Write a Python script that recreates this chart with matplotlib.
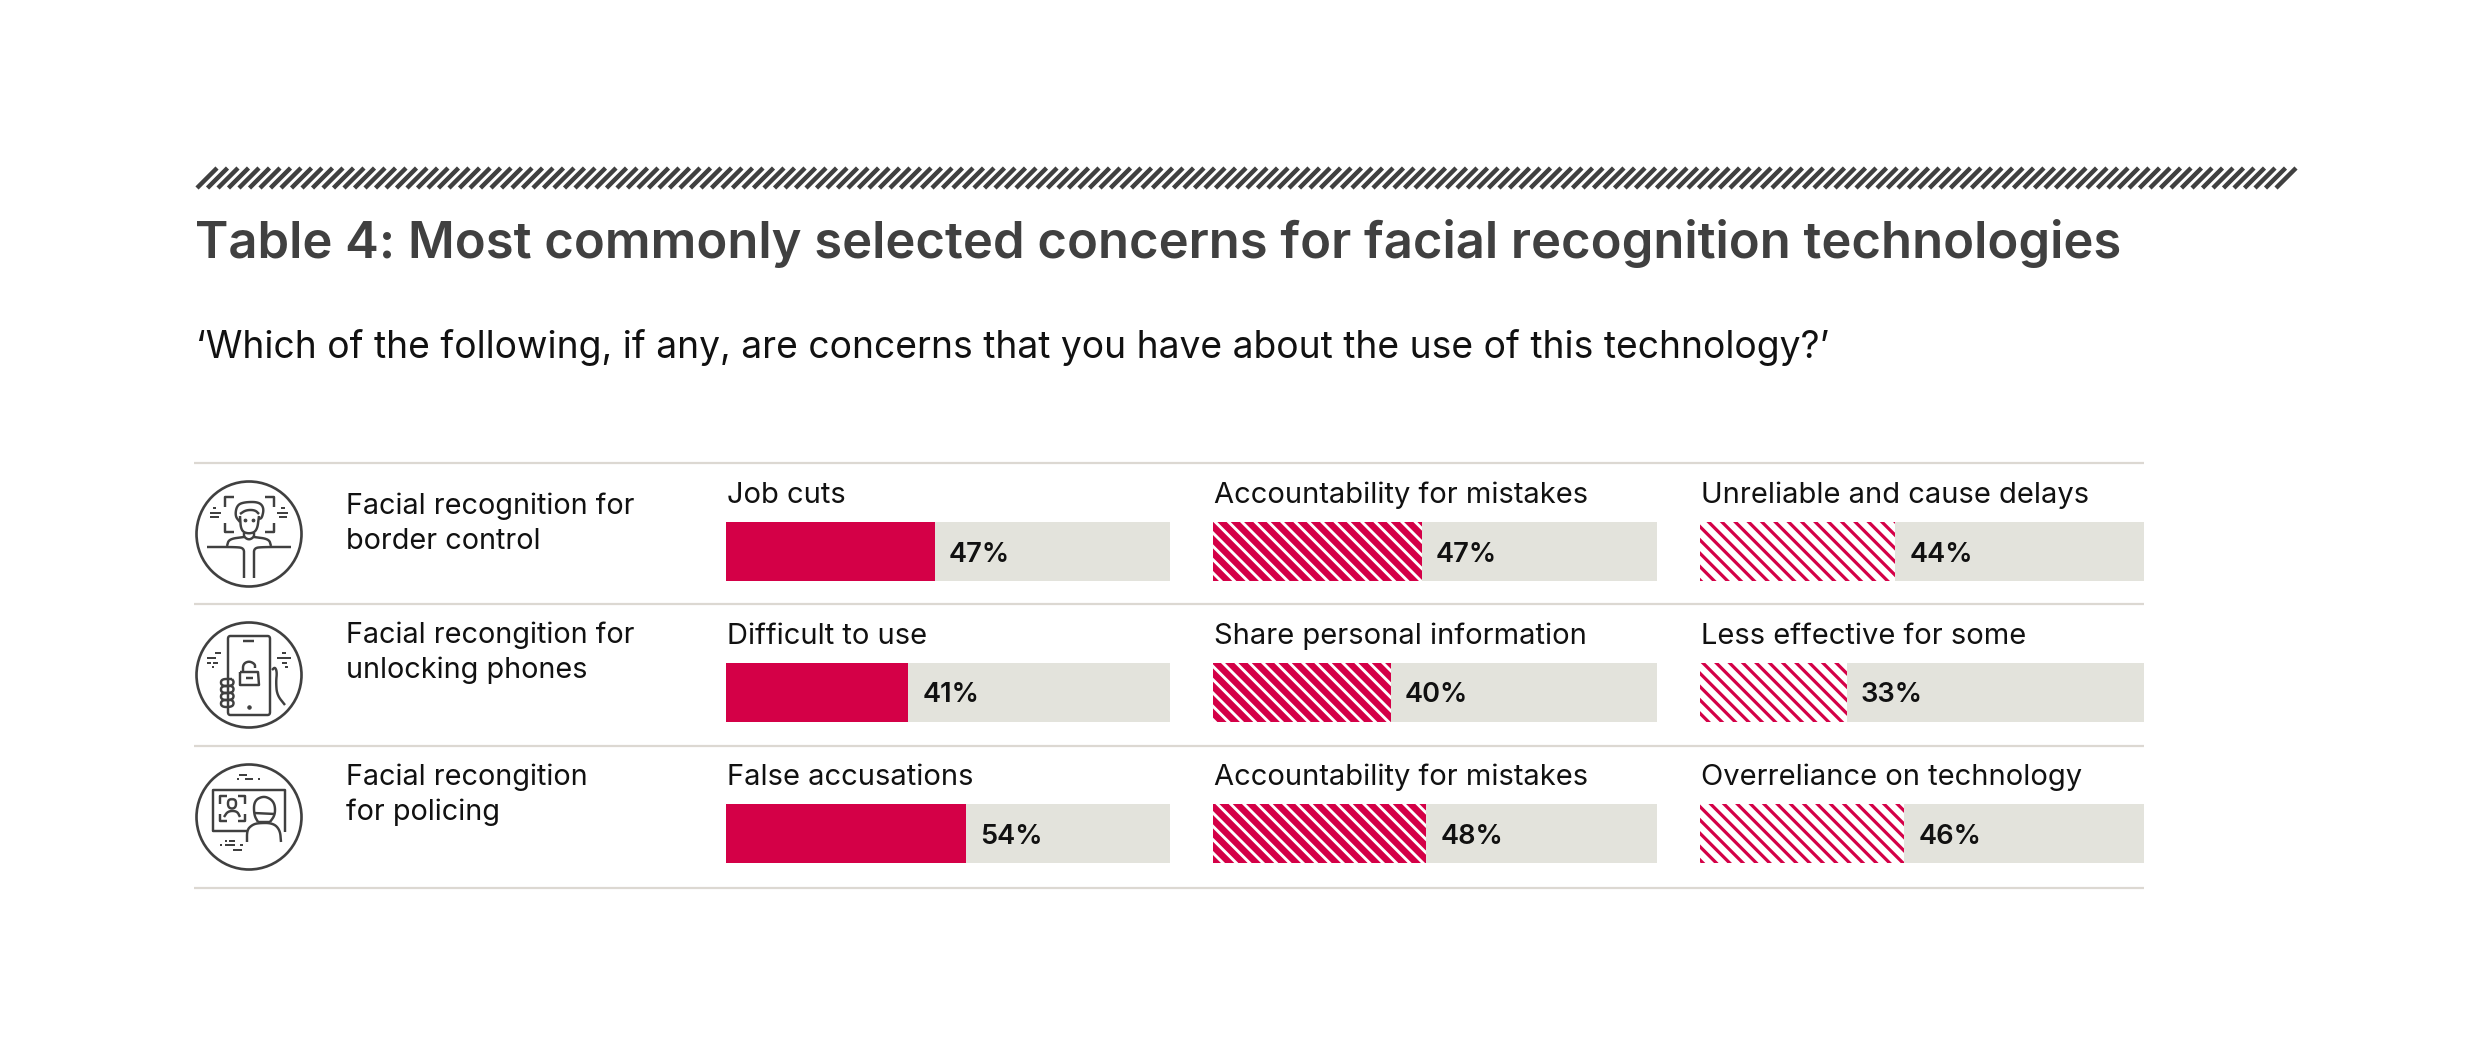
import matplotlib
matplotlib.use('Agg')
import matplotlib.pyplot as plt
from matplotlib.patches import Circle
import numpy as np

W, H = 2480, 1058
DPI = 80  # hatch tile is one inch, so 80 dpi gives stripes about 13 px apart

title = 'Table 4: Most commonly selected concerns for facial recognition technologies'
subtitle = '\u2018Which of the following, if any, are concerns that you have about the use of this technology?\u2019'

row_labels = [['Facial recognition for', 'border control'],
              ['Facial recongition for', 'unlocking phones'],
              ['Facial recongition', 'for policing']]

first_names = ['Job cuts', 'Difficult to use', 'False accusations']
first_vals = [47, 41, 54]
second_names = ['Accountability for mistakes', 'Share personal information', 'Accountability for mistakes']
second_vals = [47, 40, 48]
third_names = ['Unreliable and cause delays', 'Less effective for some', 'Overreliance on technology']
third_vals = [44, 33, 46]

RED = '#d40047'
TRACK = '#e3e3dc'
RULE = '#dcd8d2'
DARK = '#404040'
FONT = 'Inter'

plt.rcParams['font.family'] = FONT

fig = plt.figure(figsize=(W / DPI, H / DPI), dpi=DPI)
bg = fig.add_axes([0, 0, 1, 1])
bg.set_xlim(0, W)
bg.set_ylim(H, 0)
bg.axis('off')

# stripes on top
for x0 in np.arange(197, 2277, 10.5):
    bg.plot([x0, x0 + 20], [188, 168], color=DARK, lw=4.0, solid_capstyle='butt')

bg.text(195, 258, title, fontsize=45.7, fontweight=600, color=DARK, va='baseline')
bg.text(196, 358, subtitle, fontsize=33.5, color='#111111', va='baseline')

for y in [463, 604, 746, 888]:
    bg.plot([194, 2144], [y, y], color=RULE, lw=2, solid_capstyle='butt')

label_base = [[514, 549], [643, 678], [785, 820]]
for lines, bases in zip(row_labels, label_base):
    for s, y in zip(lines, bases):
        bg.text(346, y, s, fontsize=25.9, color='#111111', va='baseline')


def cell(x0, y0, name, val, style):
    # one small axes per bar so width comes from the 0-100 scale
    ax = fig.add_axes([x0 / W, 1 - (y0 + 59) / H, 444 / W, 59 / H])
    ax.set_xlim(0, 100)
    ax.set_ylim(-0.5, 0.5)
    ax.axis('off')
    ax.barh(0, 100, height=1, color=TRACK, linewidth=0)
    if style == 'solid':
        ax.barh(0, val, height=1, color=RED, linewidth=0)
    elif style == 'dense':
        b = ax.barh(0, val, height=1, color=RED, edgecolor='white', hatch='\\\\', linewidth=0)
        b[0].set_hatch_linewidth(2.6)
    else:
        b = ax.barh(0, val, height=1, color='white', edgecolor=RED, hatch='\\\\', linewidth=0)
        b[0].set_hatch_linewidth(2.9)
    ax.text(val + 3.2, 0.0, '%d%%' % val, fontsize=24.5, fontweight=600, color='#111111',
            va='center_baseline')
    bg.text(x0 + 1, y0 - 19, name, fontsize=26.2, color='#111111', va='baseline')


col_x = [726, 1213, 1700]
row_y = [522, 663, 804]
for i, y0 in enumerate(row_y):
    cell(col_x[0], y0, first_names[i], first_vals[i], 'solid')
    cell(col_x[1], y0, second_names[i], second_vals[i], 'dense')
    cell(col_x[2], y0, third_names[i], third_vals[i], 'light')


def smooth(pts, n=3):
    pts = np.array(pts, float)
    for _ in range(n):
        a = pts[:-1] * 0.75 + pts[1:] * 0.25
        b = pts[:-1] * 0.25 + pts[1:] * 0.75
        mid = np.empty((a.shape[0] * 2, 2))
        mid[0::2] = a
        mid[1::2] = b
        pts = np.vstack([pts[0], mid, pts[-1]])
    return pts


def stroke(cx, cy, pts, curved=False, lw=2.2):
    p = smooth(pts) if curved else np.array(pts, float)
    bg.plot(cx + p[:, 0], cy + p[:, 1], color=DARK, lw=lw, solid_capstyle='butt', solid_joinstyle='round')


def dashes(cx, cy, segs):
    for x0, x1, y in segs:
        stroke(cx, cy, [(x0, y), (x1, y)], lw=1.8)


centers = [(249, 534), (249, 675), (249, 817)]
for cx, cy in centers:
    bg.add_patch(Circle((cx, cy), 52.5, fill=False, edgecolor=DARK, lw=2.4))

# border control icon
cx, cy = centers[0]
for s in [[(-24, -27), (-24, -37), (-15, -37)], [(-24, -11), (-24, -2), (-15, -2)],
          [(16, -37), (25, -37), (25, -27)], [(16, -2), (25, -2), (25, -11)]]:
    stroke(cx, cy, s)
stroke(cx, cy, [(-9, -18), (-8, -3), (0, 0), (8, -3), (10, -18)], True)
stroke(cx, cy, [(-9, -12), (-14, -18), (-12, -29), (-4, -32), (10, -32), (15, -26), (13, -16), (10, -15)], True)
stroke(cx, cy, [(-9, -20), (-3, -24), (6, -24), (10, -20)], True)
bg.plot([cx - 4, cx + 4], [cy - 14, cy - 14], ls='none', marker='o', ms=2.4, color=DARK)
stroke(cx, cy, [(-5, -1), (-5, 3), (0, 6), (5, 3), (5, -1)], True)
stroke(cx, cy, [(-22, 12), (-20, 5), (-5, 3)], True)
stroke(cx, cy, [(5, 3), (20, 5), (22, 12)], True)
stroke(cx, cy, [(-42, 13), (-14, 13), (-5, 14), (-5, 22), (-5, 44)], True)
stroke(cx, cy, [(42, 13), (14, 13), (5, 14), (5, 22), (5, 44)], True)
dashes(cx, cy, [(-36, -33, -26), (-39, -28, -21), (-39, -30, -17)])
dashes(cx, cy, [(32, 36, -26), (28, 39, -21), (30, 38, -17)])

# phone icon
cx, cy = centers[1]
stroke(cx, cy, [(-21, -33), (-21, -39), (-16, -39), (16, -39), (21, -39), (21, -33), (21, 34), (21, 40),
                (16, 40), (-16, 40), (-21, 40), (-21, 34), (-21, -33)], True)
stroke(cx, cy, [(-6, -34), (5, -34)])
bg.plot([cx], [cy + 32], marker='o', ms=3, color=DARK)
stroke(cx, cy, [(-9, -3), (9, -3), (10, 10), (-9, 10), (-9, -3)])
stroke(cx, cy, [(-3, 3), (4, 3)])
stroke(cx, cy, [(-6, -3), (-6, -11), (0, -14), (6, -11), (6, -7)], True)
for y in [4, 11, 18, 25]:
    stroke(cx, cy, [(-17, y), (-28, y), (-28, y + 7), (-17, y + 7), (-15, y + 3), (-17, y)], True)
stroke(cx, cy, [(23, -5), (26, -8), (28, -3), (27, 7), (28, 20), (36, 30)], True)
dashes(cx, cy, [(-34, -28, -22), (-42, -33, -17), (-42, -38, -12), (-36, -31, -12), (-37, -35, -8)])
dashes(cx, cy, [(33, 37, -22), (28, 42, -17), (33, 38, -12), (36, 39, -8)])

# policing icon
cx, cy = centers[2]
stroke(cx, cy, [(36, 15), (36, -27), (-36, -27), (-36, 14), (-2, 14)])
for s in [[(-29, -13), (-29, -21), (-22, -21)], [(-29, -3), (-29, 4), (-22, 4)],
          [(-11, -21), (-4, -21), (-4, -13)], [(-11, 4), (-4, 4), (-4, -3)]]:
    stroke(cx, cy, s)
stroke(cx, cy, [(-17, -18), (-13, -17), (-13, -10), (-17, -8), (-21, -10), (-21, -17), (-17, -18)], True)
stroke(cx, cy, [(-25, 0), (-21, -6), (-12, -6), (-9, 0)], True)
stroke(cx, cy, [(9, 5), (5, -2), (5, -16), (14, -21), (22, -18), (26, -12), (26, -2), (21, 5)], True)
stroke(cx, cy, [(5, -4), (26, -3)])
stroke(cx, cy, [(9, 5), (21, 5)])
stroke(cx, cy, [(-2, 25), (-2, 13), (3, 8), (9, 6), (24, 6), (31, 13), (32, 25)], True)
dashes(cx, cy, [(-10, -2, -42), (-12, -10, -38), (-4, 4, -38), (9, 11, -38)])
dashes(cx, cy, [(-24, -22, 24), (-20, -14, 24), (-29, -27, 28), (-24, -14, 28), (-9, -6, 28), (-16, -7, 33)])

fig.savefig('out.png', dpi=DPI, facecolor='white')
